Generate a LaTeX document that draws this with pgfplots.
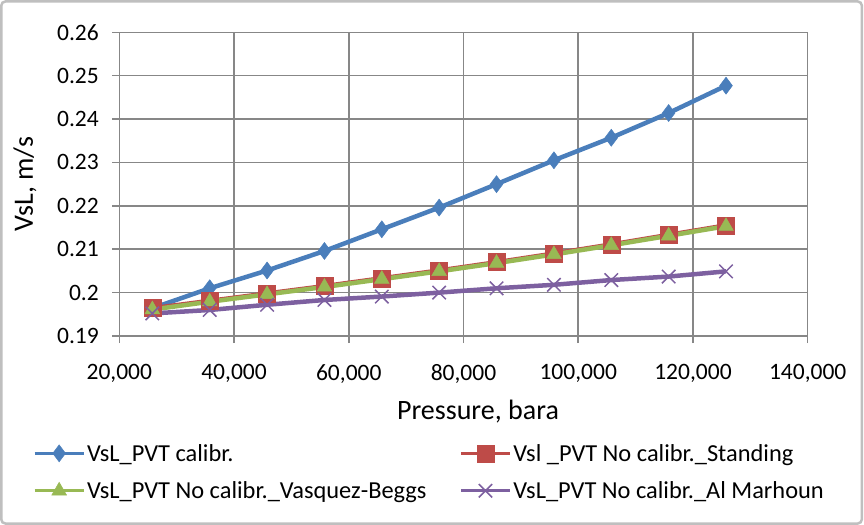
\documentclass[border=0pt]{standalone}
\usepackage{fontspec}
\setmainfont{Carlito}
\usepackage{pgfplots}
\pgfplotsset{compat=1.18}

\definecolor{sblue}{HTML}{4A7EBB}
\definecolor{sred}{HTML}{BE4B48}
\definecolor{sgreen}{HTML}{98B954}
\definecolor{spurple}{HTML}{7D60A0}
\definecolor{gridgray}{HTML}{878787}
\definecolor{framegray}{HTML}{BFBFBF}

\newcommand\tickfont{\fontsize{23.5bp}{28bp}\selectfont}
\newcommand\legendfont{\fontsize{24.4bp}{29bp}\selectfont}
\newcommand\labelfont{\fontsize{28bp}{33bp}\selectfont}

% Liquid superficial velocity vs pressure, four PVT variants
\pgfplotstableread{
p       calib   standing vasquez marhoun
25760   0.1964  0.1964   0.1961  0.1952
35760   0.2010  0.1981   0.1979  0.1960
45760   0.2051  0.1998   0.1996  0.1972
55760   0.2096  0.2015   0.2013  0.1983
65760   0.2146  0.2033   0.2031  0.1991
75760   0.2196  0.2051   0.2049  0.2000
85760   0.2250  0.2070   0.2068  0.2010
95760   0.2305  0.2090   0.2088  0.2018
105760  0.2357  0.2111   0.2109  0.2029
115760  0.2414  0.2133   0.2131  0.2037
125760  0.2477  0.2155   0.2153  0.2049
}\vsldata

\begin{document}
\begin{tikzpicture}
\useasboundingbox (-119.3bp,-189bp) rectangle (744.7bp,336bp);
\draw[framegray, line width=2.5bp, rounded corners=4bp]
  (-118bp,-187.5bp) rectangle (742.5bp,334.5bp);
\begin{axis}[
  at={(0,0)}, anchor=south west,
  scale only axis, width=688.4bp, height=303.7bp,
  xmin=20000, xmax=140000,
  xtick={20000,40000,60000,80000,100000,120000,140000},
  ymin=0.19, ymax=0.26,
  ytick={0.19,0.2,0.21,0.22,0.23,0.24,0.25,0.26},
  scaled x ticks=false, scaled y ticks=false,
  /pgf/number format/assume math mode=true,
  xticklabel style={/pgf/number format/fixed, /pgf/number format/1000 sep={,}, yshift=-18bp},
  yticklabel style={/pgf/number format/fixed, /pgf/number format/precision=2, xshift=-10bp},
  tick label style={font=\tickfont, text=black},
  axis line style={gridgray, line width=1.5bp},
  grid=major,
  major grid style={gridgray, line width=1.5bp},
  tick style={gridgray, line width=1.5bp},
  tick align=outside, major tick length=7bp,
  xtick pos=left, ytick pos=left,
  xlabel={Pressure, bara},
  ylabel={VsL, m/s},
  label style={font=\labelfont, text=black},
  xlabel style={at={(axis description cs:0.521,-0.250)}, anchor=center},
  ylabel style={at={(axis description cs:-0.137,0.5)}, anchor=center},
  legend columns=2,
  legend style={draw=none, fill=none, font=\legendfont, text=black,
    at={(axis description cs:-0.1254,-0.448)}, anchor=west,
    inner sep=0pt, row sep=15bp,
    /tikz/every even column/.append style={column sep=31bp}},
  legend cell align=left,
  legend image code/.code={%
    \draw[mark repeat=2, mark phase=2, line width=3bp]
      plot coordinates {(0bp,0bp) (24.5bp,0bp) (49bp,0bp)};},
  every axis plot/.append style={line width=4.5bp},
]
\addplot[sblue, mark=diamond*, mark size=8.5bp, mark options={solid, line width=0.5bp}]
  table[x=p, y=calib] {\vsldata};
\addlegendentry{VsL\_PVT calibr.}
\addplot[sred, mark=square*, mark size=8.5bp, mark options={solid, line width=0.5bp}]
  table[x=p, y=standing] {\vsldata};
\addlegendentry{Vsl \_PVT No calibr.\_Standing}
\addplot[sgreen, mark=triangle*, mark size=8.5bp, mark options={solid, line width=0.5bp}]
  table[x=p, y=vasquez] {\vsldata};
\addlegendentry{VsL\_PVT No calibr.\_Vasquez-Beggs}
\addplot[spurple, mark=x, mark size=9.5bp, mark options={solid, line width=1.5bp}]
  table[x=p, y=marhoun] {\vsldata};
\addlegendentry{VsL\_PVT No calibr.\_Al Marhoun}
\end{axis}
\end{tikzpicture}
\end{document}
